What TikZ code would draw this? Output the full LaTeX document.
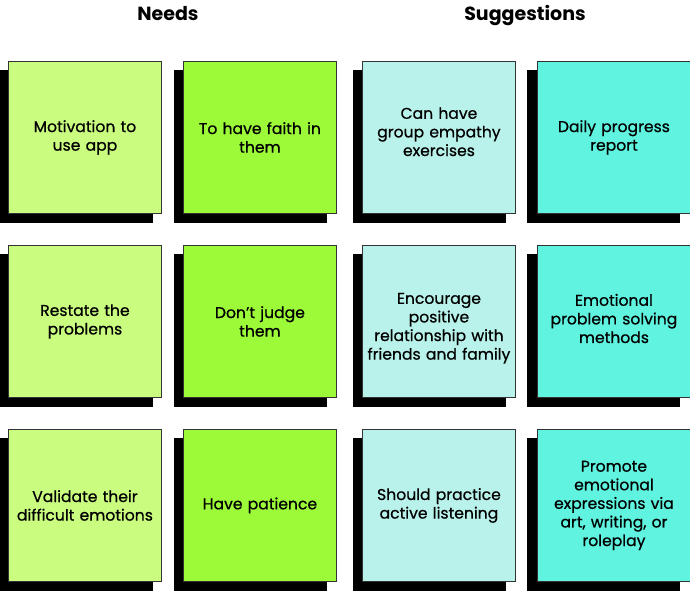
\documentclass[tikz,border=0pt]{standalone}
\usepackage{fontspec}
\setmainfont{Poppins}
\newfontfamily\notefont[FakeBold=0.6]{Poppins}
\definecolor{gA}{HTML}{CAFC80}
\definecolor{gB}{HTML}{9CFA38}
\definecolor{cA}{HTML}{B9F2EA}
\definecolor{cB}{HTML}{5FF3E0}
\begin{document}
\begin{tikzpicture}[x=1pt,y=-1pt,
  shadowbox/.style={fill=black, draw=none, minimum width=153pt, minimum height=153pt, anchor=north west, inner sep=0pt},
  note/.style={draw=black!80, line width=0.9pt, minimum width=153pt, minimum height=152pt, anchor=north west, inner sep=0pt, text width=152pt, align=center, font=\notefont\fontsize{15.6}{18.6}\selectfont},
  header/.style={font=\fontsize{19}{22}\selectfont\bfseries, anchor=base}]
\useasboundingbox (0,0) rectangle (690,593);
\node[header] (h1) at (168,21) {Needs};
\node[header] (h2) at (525,21) {Suggestions};
% row 1
\node[shadowbox] (s11) at (0,70) {};
\node[note, fill=gA] (b11) at (8,61) {Motivation to\\use app};
\node[shadowbox] (s12) at (174,70) {};
\node[note, fill=gB] (b12) at (183,61) {To have faith in\\them};
\node[shadowbox] (s13) at (353,70) {};
\node[note, fill=cA] (b13) at (362,61) {Can have\\group empathy\\exercises\\[-7pt]\mbox{}};
\node[shadowbox] (s14) at (527,70) {};
\node[note, fill=cB] (b14) at (537,61) {Daily progress\\report};
% row 2
\node[shadowbox] (s21) at (0,254) {};
\node[note, fill=gA] (b21) at (8,245) {Restate the\\problems};
\node[shadowbox] (s22) at (174,254) {};
\node[note, fill=gB] (b22) at (183,245) {Don’t judge\\them};
\node[shadowbox] (s23) at (353,254) {};
\node[note, fill=cA] (b23) at (362,245) {\mbox{}\\[6pt]Encourage\\positive\\relationship with\\friends and family};
\node[shadowbox] (s24) at (527,254) {};
\node[note, fill=cB] (b24) at (537,245) {Emotional\\problem solving\\methods\\[-12.6pt]\mbox{}};
% row 3
\node[shadowbox] (s31) at (0,438) {};
\node[note, fill=gA] (b31) at (8,429) {Validate their\\difficult emotions};
\node[shadowbox] (s32) at (174,438) {};
\node[note, fill=gB] (b32) at (183,429) {Have patience};
\node[shadowbox] (s33) at (353,438) {};
\node[note, fill=cA] (b33) at (362,429) {Should practice\\active listening};
\node[shadowbox] (s34) at (527,438) {};
\node[note, fill=cB] (b34) at (537,429) {Promote\\emotional\\expressions via\\art, writing, or\\roleplay};
\end{tikzpicture}
\end{document}
